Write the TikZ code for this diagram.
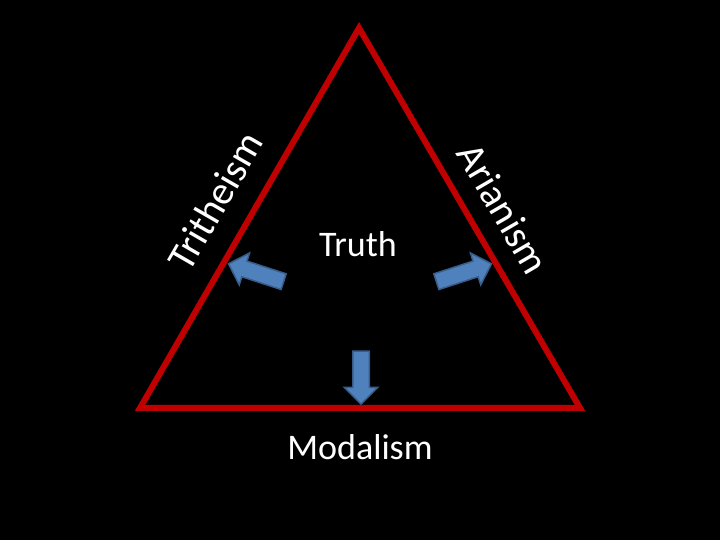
\documentclass[tikz,border=0pt]{standalone}
\usepackage{fontspec}
\setmainfont{Carlito}
\usetikzlibrary{shapes.arrows}
\definecolor{cEdge}  {RGB}{192,  0,  0}
\definecolor{cArrow} {RGB}{ 79,129,189}
\definecolor{cArrowD}{RGB}{ 56, 93,138}

\begin{document}
\begin{tikzpicture}[
  x=1pt, y=1pt,
  %% ── triangle side ─────────────────────────────────────────────────────
  side/.style={draw=cEdge, line width=6pt},
  %% ── heresy label along a side ─────────────────────────────────────────
  H/.style={sloped, above=#1, inner sep=0pt, text=white, font=\fontsize{40}{44}\selectfont},
  %% ── centre / bottom text ──────────────────────────────────────────────
  T/.style={text=white, inner sep=0pt, font=\fontsize{36}{40}\selectfont},
  %% ── blue block arrow ──────────────────────────────────────────────────
  blk/.style={single arrow, draw=cArrowD, fill=cArrow, line width=1.5pt,
              inner xsep=0pt, inner ysep=7.5pt, single arrow head extend=8.5pt,
              minimum height=#1},
]

%% background
\fill[black] (0,0) rectangle (720,540);

%% corners
\coordinate (top) at (359,512);
\coordinate (bl)  at (140,132);
\coordinate (br)  at (580,132);

%% the triangle
\draw[side] (top) -- (bl) -- (br) -- cycle;

%% side labels
\path (bl)  -- node[H=24pt, pos=0.495] (trith) {Tritheism} (top);
\path (top) -- node[H=20pt, pos=0.52]  (arian) {Arianism}  (br);

%% centre and bottom
\node[T] (truth) at (358,296) {Truth};
\node[T] (modal) at (360,93)  {Modalism};

%% arrows pointing out to the sides
\node[blk=58pt, rotate=162] (aL) at (260,266)   {};
\node[blk=58pt, rotate=18]  (aR) at (460,266)   {};
\node[blk=53pt, rotate=-90] (aB) at (361,166.5) {};

\end{tikzpicture}
\end{document}
